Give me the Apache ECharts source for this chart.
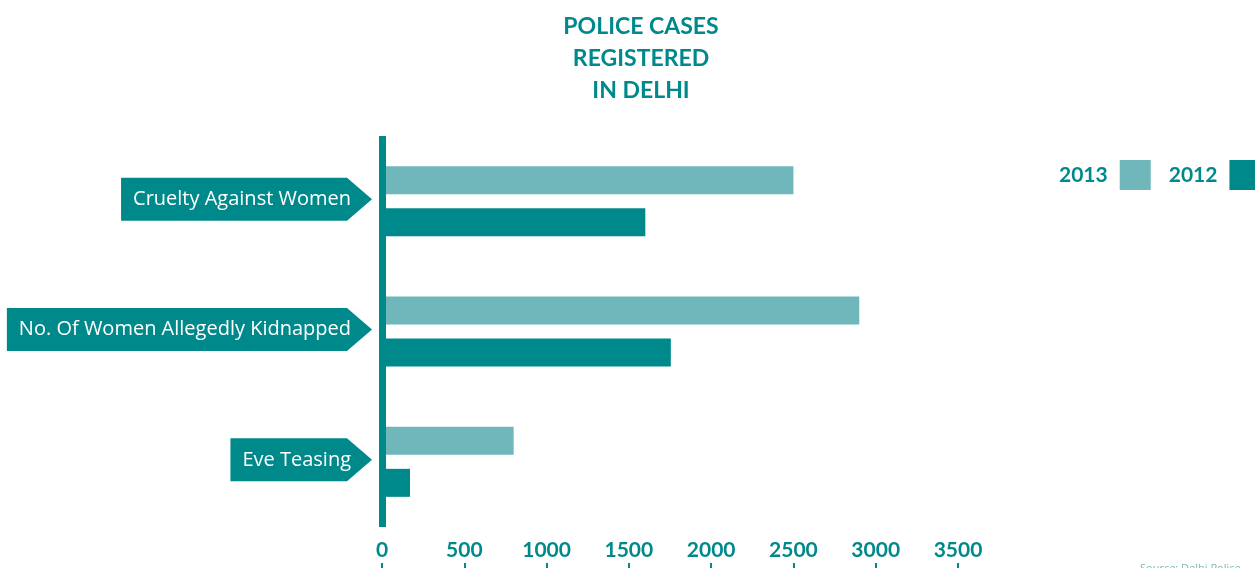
<!DOCTYPE html>
<html>
<head>
<meta charset="utf-8">
<script src="https://cdn.jsdelivr.net/npm/echarts@6/dist/echarts.min.js"></script>
<style>
  html, body { margin: 0; padding: 0; background: #fff; }
  #chart { width: 1255px; height: 568px; }
</style>
</head>
<body>
<div id="chart"></div>
<script>
// data
var categories = ['Cruelty Against Women', 'No. Of Women Allegedly Kidnapped', 'Eve Teasing'];
var cases2013 = [2500, 2900, 800];
var cases2012 = [1600, 1755, 170];
var seriesNames = ['2013', '2012'];
var xTicks = { min: 0, max: 3500, interval: 500 };

var dark = '#00898b';
var light = '#6fb7bb';
var labelFont = '20px "Open Sans"';

var measure = document.createElement('canvas').getContext('2d');
measure.font = labelFont;

var chart = echarts.init(document.getElementById('chart'));

chart.setOption({
  animation: false,
  title: {
    text: 'POLICE CASES\nREGISTERED\nIN DELHI',
    left: 636,
    top: 6,
    textAlign: 'center',
    textStyle: {
      color: dark,
      fontFamily: 'Lato',
      fontWeight: 'bold',
      fontSize: 23,
      lineHeight: 32
    }
  },
  legend: {
    data: seriesNames,
    orient: 'horizontal',
    left: 1059,
    top: 160,
    width: 400,
    padding: 0,
    align: 'right',
    icon: 'rect',
    itemWidth: 31,
    itemHeight: 30,
    itemGap: 18,
    textStyle: {
      color: dark,
      fontFamily: 'Lato',
      fontWeight: 'bold',
      fontSize: 21,
      padding: [0, 7, 0, 0]
    }
  },
  grid: {
    left: 382,
    top: 136,
    width: 576,
    height: 391
  },
  xAxis: [{
    type: 'value',
    min: xTicks.min,
    max: xTicks.max,
    interval: xTicks.interval,
    axisLine: { show: false },
    axisTick: { show: false },
    splitLine: { show: false },
    axisLabel: {
      margin: 13,
      color: dark,
      fontFamily: 'Lato',
      fontWeight: 'bold',
      fontSize: 21,
      formatter: function (v) { return String(v); }
    }
  }, {
    // small ticks sitting under the labels
    type: 'value',
    position: 'bottom',
    offset: 36,
    min: xTicks.min,
    max: xTicks.max,
    interval: xTicks.interval,
    axisLine: { show: false },
    axisTick: { show: true, length: 6, lineStyle: { color: dark, width: 2 } },
    axisLabel: { show: false },
    splitLine: { show: false }
  }],
  yAxis: {
    type: 'category',
    data: categories,
    inverse: true,
    z: 4,
    axisLine: { show: true, lineStyle: { color: dark, width: 7, cap: 'butt' } },
    axisTick: { show: false },
    axisLabel: { show: false }
  },
  series: [{
    name: '2013',
    type: 'bar',
    data: cases2013,
    barWidth: 28,
    barGap: '50%',
    itemStyle: { color: light }
  }, {
    name: '2012',
    type: 'bar',
    data: cases2012,
    barWidth: 28,
    barGap: '50%',
    itemStyle: { color: dark }
  }, {
    // arrow shaped banners for the category names
    type: 'custom',
    data: categories.map(function (c, i) { return [0, i]; }),
    encode: { x: 0, y: 1 },
    z: 5,
    renderItem: function (params, api) {
      var p = api.coord([0, api.value(1)]);
      var name = categories[params.dataIndex];
      var w = measure.measureText(name).width;
      var tip = p[0] - 10;
      var corner = tip - 25;
      var textEnd = tip - 21;
      var left = textEnd - w - 12;
      var y = p[1] - 2;
      var h = 21.5;
      return {
        type: 'group',
        children: [{
          type: 'polygon',
          shape: {
            points: [[left, y - h], [corner, y - h], [tip, y], [corner, y + h], [left, y + h]]
          },
          style: { fill: dark }
        }, {
          type: 'text',
          x: textEnd,
          y: y,
          style: {
            text: name,
            fill: '#fff',
            font: labelFont,
            align: 'right',
            verticalAlign: 'middle'
          }
        }]
      };
    }
  }],
  graphic: [{
    type: 'text',
    left: 1140,
    top: 563,
    style: { text: 'Source: Delhi Police', fill: '#7fb8ba', font: '11px "Open Sans"' }
  }]
});
</script>
</body>
</html>
